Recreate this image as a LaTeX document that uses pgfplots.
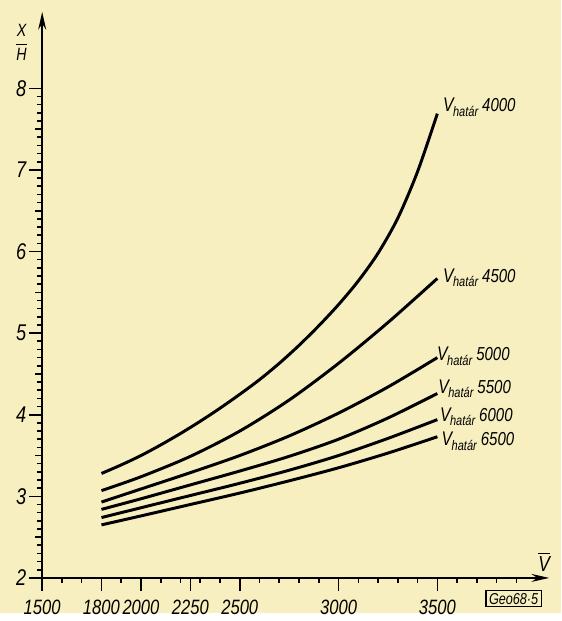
\documentclass[border=0pt]{standalone}
\usepackage{fontspec}
\setmainfont{Liberation Sans}[FakeStretch=0.8]
\usepackage{pgfplots}
\pgfplotsset{compat=1.18}
\usetikzlibrary{arrows.meta}
\definecolor{paper}{RGB}{248,239,193}
\newcommand{\vlab}[1]{{\itshape\fontsize{10}{12}\selectfont V\kern-0.3pt\raisebox{-2.2pt}{\fontsize{7}{8}\selectfont határ}\kern2pt\fontsize{9.5}{11}\selectfont #1}}
\begin{document}
\begin{tikzpicture}
\fill[paper] (-21.35pt,-18pt) rectangle (262.65pt,292.5pt);
\begin{axis}[
  at={(0pt,0pt)}, anchor=south west,
  scale only axis, width=256.65pt, height=286.5pt,
  xmin=1500, xmax=4066.5, ymin=2, ymax=8.937,
  axis lines=left,
  axis line style={line width=1pt, -{Stealth[length=9pt,width=4pt]}},
  clip=false,
  tick align=outside,
  major tick length=6.5pt, minor tick length=2.5pt,
  every tick/.style={black, line width=0.8pt},
  xtick={1500,1800,2000,2250,2500,3000,3500},
  xticklabels={1500,1800,2000,2250,2500,3000,3500},
  minor xtick={1600,1700,1900,2100,2200,2300,2400,2600,2700,2800,2900,3100,3200,3300,3400,3600,3700,3800,3900},
  ytick={2,3,4,5,6,7,8},
  yticklabels={2,3,4,5,6,7,8},
  minor ytick={2.1,2.2,2.3,2.4,2.6,2.7,2.8,2.9,3.1,3.2,3.3,3.4,3.6,3.7,3.8,3.9,4.1,4.2,4.3,4.4,4.6,4.7,4.8,4.9,5.1,5.2,5.3,5.4,5.6,5.7,5.8,5.9,6.1,6.2,6.3,6.4,6.6,6.7,6.8,6.9,7.1,7.2,7.3,7.4,7.6,7.7,7.8,7.9},
  extra y ticks={2.5,3.5,4.5,5.5,6.5,7.5},
  extra y tick labels={},
  extra y tick style={major tick length=3.5pt},
  x tick label style={font=\fontsize{10.5}{12}\selectfont\itshape, yshift=-1pt},
  y tick label style={font=\fontsize{11.5}{13}\selectfont\itshape, xshift=2pt},
]
\addplot[black, line width=1.5pt, smooth, tension=0.5] coordinates {
(1800,3.28) (1900,3.385) (2000,3.50) (2100,3.63) (2200,3.77) (2300,3.92) (2400,4.08) (2500,4.25) (2600,4.43) (2700,4.63) (2800,4.85) (2900,5.09) (3000,5.35) (3100,5.64) (3200,5.98) (3300,6.41) (3400,6.98) (3500,7.69)};
\addplot[black, line width=1.5pt, smooth, tension=0.5] coordinates {
(1800,3.07) (2000,3.24) (2250,3.49) (2500,3.80) (2750,4.18) (3000,4.63) (3250,5.13) (3500,5.67)};
\addplot[black, line width=1.5pt, smooth, tension=0.5] coordinates {
(1800,2.93) (2000,3.09) (2250,3.29) (2500,3.50) (2750,3.74) (3000,4.02) (3250,4.34) (3500,4.70)};
\addplot[black, line width=1.5pt, smooth, tension=0.5] coordinates {
(1800,2.84) (2000,2.97) (2250,3.14) (2500,3.31) (2750,3.49) (3000,3.70) (3250,3.96) (3500,4.26)};
\addplot[black, line width=1.5pt, smooth, tension=0.5] coordinates {
(1800,2.74) (2000,2.86) (2250,3.01) (2500,3.16) (2750,3.32) (3000,3.50) (3250,3.71) (3500,3.94)};
\addplot[black, line width=1.5pt, smooth, tension=0.5] coordinates {
(1800,2.65) (2000,2.76) (2250,2.90) (2500,3.04) (2750,3.19) (3000,3.35) (3250,3.53) (3500,3.73)};
\node[anchor=base west, inner sep=0pt] at (axis cs:3527,7.71) {\vlab{4000}};
\node[anchor=base west, inner sep=0pt] at (axis cs:3527,5.62) {\vlab{4500}};
\node[anchor=base west, inner sep=0pt] at (axis cs:3497,4.66) {\vlab{5000}};
\node[anchor=base west, inner sep=0pt] at (axis cs:3503,4.26) {\vlab{5500}};
\node[anchor=base west, inner sep=0pt] at (axis cs:3512,3.92) {\vlab{6000}};
\node[anchor=base west, inner sep=0pt] at (axis cs:3520,3.62) {\vlab{6500}};
\node[inner sep=0pt] at (axis cs:1396,8.56) {\fontsize{9}{10}\selectfont$\displaystyle\frac{\textit{X}}{\textit{H}}$};
\node[inner sep=0pt] at (axis cs:4041,2.2) {\fontsize{11}{12}\selectfont$\overline{\textit{V}}$};
\node[draw, line width=0.6pt, inner xsep=1.5pt, inner ysep=1.3pt] at (axis cs:3886,1.746) {\fontsize{8}{9}\selectfont\itshape Geo68·5};
\end{axis}
\end{tikzpicture}
\end{document}
